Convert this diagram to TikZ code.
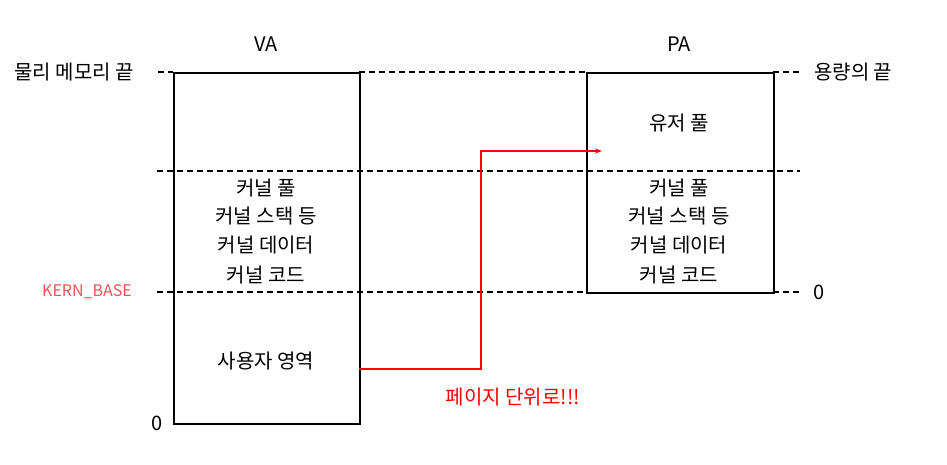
\documentclass[tikz,border=0pt]{standalone}
\usepackage{fontspec}
\setmainfont{Noto Sans CJK KR}
\usetikzlibrary{arrows.meta}
\definecolor{kred}{HTML}{EA5558}
\tikzset{
  box/.style={draw=black, line width=1.6pt},
  guide/.style={draw=black, line width=1.3pt, dash pattern=on 6pt off 4pt},
  lbl/.style={font=\fontsize{20}{24}\selectfont, inner sep=0pt},
  conn/.style={draw=red, line width=1.6pt, -{Stealth[length=7pt,width=5pt]}}
}
\begin{document}
\begin{tikzpicture}[x=1pt,y=-1pt]
\useasboundingbox (0,0) rectangle (947,464);
% dashed guides
\coordinate (d1a) at (158,72); \coordinate (d1b) at (173,72);
\coordinate (d1c) at (359,72); \coordinate (d1d) at (586,72);
\coordinate (d1e) at (773,72); \coordinate (d1f) at (800,72);
\coordinate (d2a) at (157,171); \coordinate (d2b) at (800,171);
\coordinate (d3a) at (157,292); \coordinate (d3b) at (586,292);
\coordinate (d3c) at (773,292); \coordinate (d3d) at (800,292);
\draw[guide] (d1a) -- (d1b);
\draw[guide] (d1c) -- (d1d);
\draw[guide] (d1e) -- (d1f);
\draw[guide] (d2a) -- (d2b);
\draw[guide] (d3a) -- (d3b);
\draw[guide] (d3c) -- (d3d);
% boxes
\node[box, minimum width=186pt, minimum height=351pt, inner sep=0pt, anchor=north west] (va) at (173,72) {};
\node[box, minimum width=187pt, minimum height=220pt, inner sep=0pt, anchor=north west] (pa) at (586,72) {};
% titles
\node[lbl] (vat) at (266,44) {VA};
\node[lbl] (pat) at (679,44) {PA};
\node[lbl, anchor=east] (phys) at (134,72) {물리 메모리 끝};
\node[lbl, anchor=west] (cap) at (814,72) {용량의 끝};
\node[lbl, anchor=east, text=kred, font=\fontsize{16}{19}\selectfont] (kb) at (132,292) {KERN\_BASE};
\node[lbl] (zva) at (157,423) {0};
\node[lbl] (zpa) at (819,292) {0};
% VA contents
\node[lbl] (v1) at (266,188) {커널 풀};
\node[lbl] (v2) at (266,216) {커널 스택 등};
\node[lbl] (v3) at (266,245) {커널 데이터};
\node[lbl] (v4) at (266,275) {커널 코드};
\node[lbl] (user) at (266,361) {사용자 영역};
% PA contents
\node[lbl] (upool) at (679,123) {유저 풀};
\node[lbl] (p1) at (679,188) {커널 풀};
\node[lbl] (p2) at (679,216) {커널 스택 등};
\node[lbl] (p3) at (679,245) {커널 데이터};
\node[lbl] (p4) at (679,275) {커널 코드};
% arrow
\coordinate (as) at (359,369);
\coordinate (ae) at (602,151);
\draw[conn] (as) -- (481,369) -- (481,151) -- (ae);
\node[lbl, text=red] (page) at (513,397) {페이지 단위로!!!};
\end{tikzpicture}
\end{document}
